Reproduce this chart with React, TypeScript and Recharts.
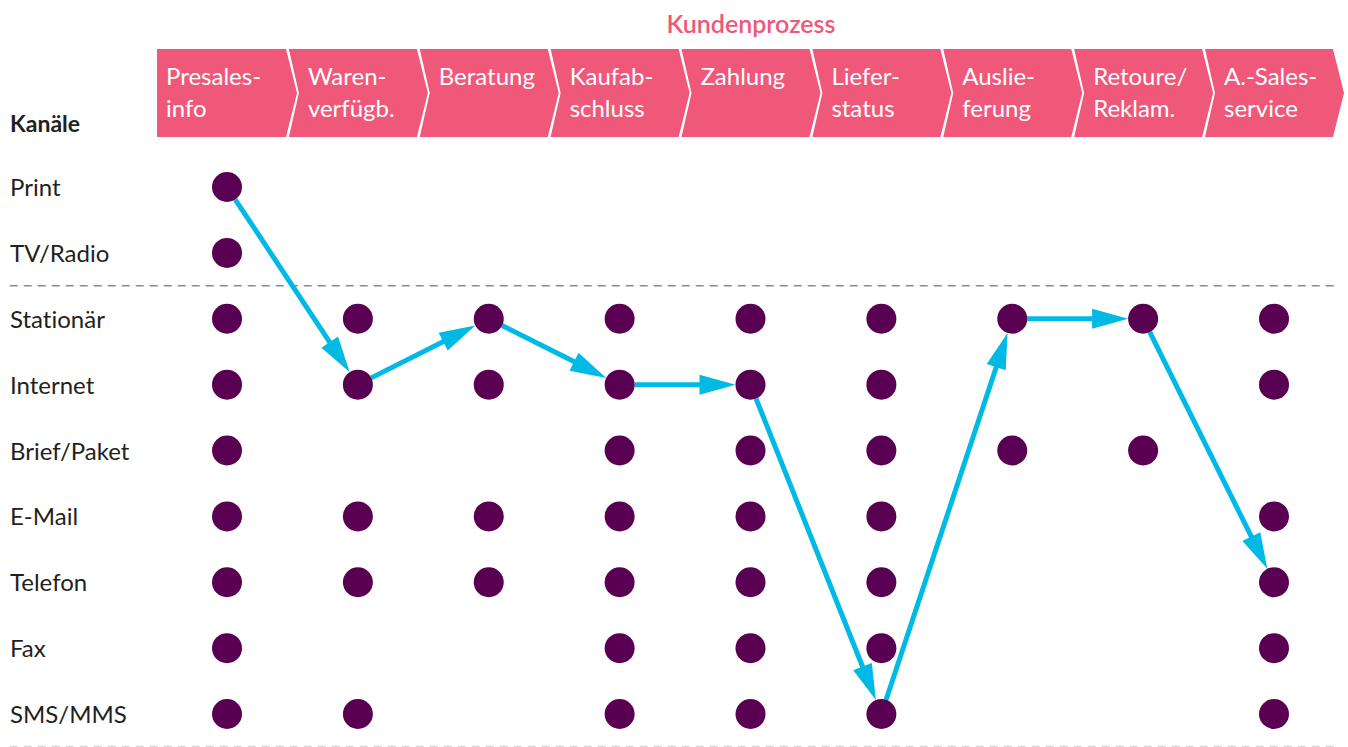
import { ReferenceLine, Scatter, ScatterChart, XAxis, YAxis } from "recharts";

// Process steps (top banner), two lines each
const STEPS: string[][] = [
  ["Presales-", "info"],
  ["Waren-", "verfügb."],
  ["Beratung"],
  ["Kaufab-", "schluss"],
  ["Zahlung"],
  ["Liefer-", "status"],
  ["Auslie-", "ferung"],
  ["Retoure/", "Reklam."],
  ["A.-Sales-", "service"],
];

const CHANNELS = [
  "Print",
  "TV/Radio",
  "Stationär",
  "Internet",
  "Brief/Paket",
  "E-Mail",
  "Telefon",
  "Fax",
  "SMS/MMS",
];

// channel indices offered at each step
const AVAILABLE: number[][] = [
  [0, 1, 2, 3, 4, 5, 6, 7, 8],
  [2, 3, 5, 6, 8],
  [2, 3, 5, 6],
  [2, 3, 4, 5, 6, 7, 8],
  [2, 3, 4, 5, 6, 7, 8],
  [2, 3, 4, 5, 6, 7, 8],
  [2, 4],
  [2, 4],
  [2, 3, 5, 6, 7, 8],
];

// channel used at each step of the example journey
const JOURNEY = [0, 3, 2, 3, 3, 8, 2, 2, 6];

const PINK = "#ef5879";
const PURPLE = "#5a0052";
const CYAN = "#00b9e5";
const INK = "#231f20";
const FONT = "Lato, 'Open Sans', sans-serif";
const NOLIG = { fontVariantLigatures: "none" as const };
const DOT_R = 15;

const dots = AVAILABLE.flatMap((rows, col) => rows.map((row) => ({ x: col, y: row })));

const TOP = 49;
const BOTTOM = 137;
const MID = (TOP + BOTTOM) / 2;

function StepTick(props: any) {
  const { x, payload } = props;
  const i = payload.value as number;
  const lines = STEPS[i] ?? [];
  const left = x - 70;
  const pts =
    i === 0
      ? [
          [left, TOP],
          [x + 59, TOP],
          [x + 70, MID],
          [x + 59, BOTTOM],
          [left, BOTTOM],
        ]
      : [
          [left + 1, TOP],
          [x + 59, TOP],
          [x + 70, MID],
          [x + 59, BOTTOM],
          [left + 1, BOTTOM],
          [x - 59, MID],
        ];
  const tx = i === 0 ? x - 61 : x - 50;
  return (
    <g>
      <polygon points={pts.map((p) => p.join(",")).join(" ")} fill={PINK} />
      {lines.map((l, k) => (
        <text key={k} x={tx} y={85 + k * 32} fill="#fff" fontSize={24} fontFamily={FONT} style={NOLIG}>
          {l}
        </text>
      ))}
    </g>
  );
}

function ChannelTick(props: any) {
  const { y, payload } = props;
  return (
    <text x={10} y={y + 9} fill={INK} fontSize={24} fontFamily={FONT} style={NOLIG}>
      {CHANNELS[payload.value]}
    </text>
  );
}

function Arrow(props: any) {
  const { x1, y1, x2, y2 } = props;
  const dx = x2 - x1;
  const dy = y2 - y1;
  const len = Math.hypot(dx, dy) || 1;
  const ux = dx / len;
  const uy = dy / len;
  const sx = x1 + ux * DOT_R;
  const sy = y1 + uy * DOT_R;
  const tx = x2 - ux * DOT_R;
  const ty = y2 - uy * DOT_R;
  const head = 36;
  const half = 10;
  const bx = tx - ux * head;
  const by = ty - uy * head;
  return (
    <g>
      <line x1={sx} y1={sy} x2={bx + ux * 2} y2={by + uy * 2} stroke={CYAN} strokeWidth={5} />
      <polygon
        points={`${tx},${ty} ${bx - uy * half},${by + ux * half} ${bx + uy * half},${by - ux * half}`}
        fill={CYAN}
      />
    </g>
  );
}

export default function App() {
  return (
    <div style={{ position: "absolute", left: 0, top: 0 }}>
      <ScatterChart width={1348} height={747} margin={{ top: 0, right: 0, bottom: 0, left: 0 }}>
        <XAxis
          type="number"
          dataKey="x"
          domain={[-1.7345, 8.5654]}
          ticks={[0, 1, 2, 3, 4, 5, 6, 7, 8]}
          orientation="top"
          mirror
          axisLine={false}
          tickLine={false}
          tick={<StepTick />}
          interval={0}
        />
        <YAxis
          type="number"
          dataKey="y"
          domain={[-2.8387, 8.5009]}
          reversed
          ticks={[0, 1, 2, 3, 4, 5, 6, 7, 8]}
          mirror
          axisLine={false}
          tickLine={false}
          tick={<ChannelTick />}
          interval={0}
        />
        <ReferenceLine
          segment={[
            { x: -1.66, y: 1.5 },
            { x: 8.46, y: 1.5 },
          ]}
          stroke="#8a8a8a"
          strokeWidth={1.5}
          strokeDasharray="8 6"
          ifOverflow="visible"
        />
        <ReferenceLine
          segment={[
            { x: -1.66, y: 8.49 },
            { x: 8.46, y: 8.49 },
          ]}
          stroke="#d6d6d6"
          strokeWidth={1.2}
          strokeDasharray="8 6"
          ifOverflow="visible"
        />
        {JOURNEY.slice(1).map((row, i) => (
          <ReferenceLine
            key={i}
            segment={[
              { x: i, y: JOURNEY[i] },
              { x: i + 1, y: row },
            ]}
            ifOverflow="visible"
            shape={(p: any) => <Arrow {...p} />}
          />
        ))}
        <Scatter
          data={dots}
          isAnimationActive={false}
          shape={(p: any) => <circle cx={p.cx} cy={p.cy} r={DOT_R} fill={PURPLE} />}
        />
        <text x={751} y={33} textAnchor="middle" fill={PINK} fontSize={25} fontWeight={600} fontFamily={FONT}>
          Kundenprozess
        </text>
        <text x={10} y={132} fill={INK} fontSize={23} fontWeight={700} fontFamily={FONT}>
          Kanäle
        </text>
      </ScatterChart>
    </div>
  );
}
